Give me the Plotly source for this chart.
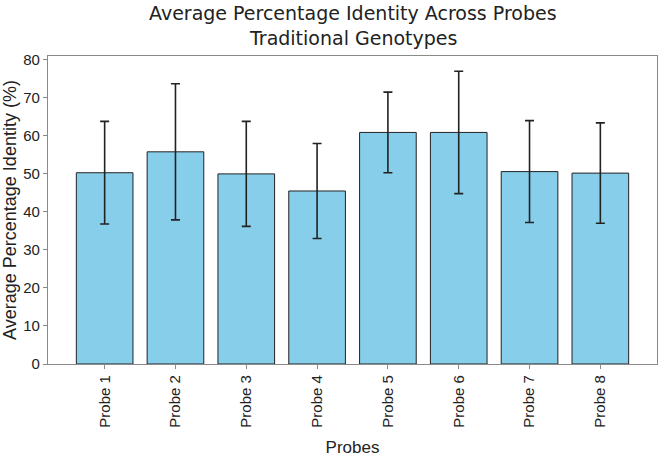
import plotly.graph_objects as go

probes = ["Probe 1", "Probe 2", "Probe 3", "Probe 4", "Probe 5", "Probe 6", "Probe 7", "Probe 8"]
mean_identity = [50.3, 55.8, 50.0, 45.5, 60.9, 60.9, 50.6, 50.2]
std_identity = [13.5, 17.9, 13.8, 12.5, 10.6, 16.1, 13.4, 13.2]
title_lines = ["Average Percentage Identity Across Probes", "Traditional Genotypes"]

fig = go.Figure()
fig.add_trace(go.Bar(
    x=list(range(len(probes))),
    y=mean_identity,
    width=0.8,
    marker=dict(color="#87CEEB", line=dict(color="#222222", width=1)),
    error_y=dict(type="data", array=std_identity, visible=True,
                 color="#222222", thickness=1.6, width=4.5),
))

tickfont = dict(family="Liberation Sans, Arial", size=15, color="#222")
axis_common = dict(showline=True, linecolor="#8a8a8a", linewidth=1.2, mirror=True,
                   ticks="outside", tickcolor="#8a8a8a", ticklen=4, showgrid=False,
                   zeroline=False, tickfont=tickfont)

title_font = dict(family="DejaVu Sans, sans-serif", size=19, color="#222")
annotations = [
    dict(text=title_lines[0], xref="paper", yref="paper", x=0.5, y=1 + (56 - 13) / 308,
         xanchor="center", yanchor="middle", showarrow=False, font=title_font),
    dict(text=title_lines[1], xref="paper", yref="paper", x=0.5, y=1 + (56 - 38) / 308,
         xanchor="center", yanchor="middle", showarrow=False, font=title_font),
]

fig.update_layout(
    width=661, height=459,
    margin=dict(l=48, r=4, t=56, b=95),
    paper_bgcolor="white", plot_bgcolor="white",
    showlegend=False,
    annotations=annotations,
    xaxis=dict(axis_common, tickmode="array", tickvals=list(range(len(probes))), ticktext=probes,
               range=[-0.8, 7.8], tickangle=-90,
               title=dict(text="Probes", standoff=14,
                          font=dict(family="Liberation Sans, Arial", size=17, color="#222"))),
    yaxis=dict(axis_common, range=[0, 81], tickmode="array", tickvals=list(range(0, 81, 10)),
               title=dict(text="Average Percentage Identity (%)", standoff=1,
                          font=dict(family="Liberation Sans, Arial", size=18, color="#222"))),
)

fig.write_html("out.html")
